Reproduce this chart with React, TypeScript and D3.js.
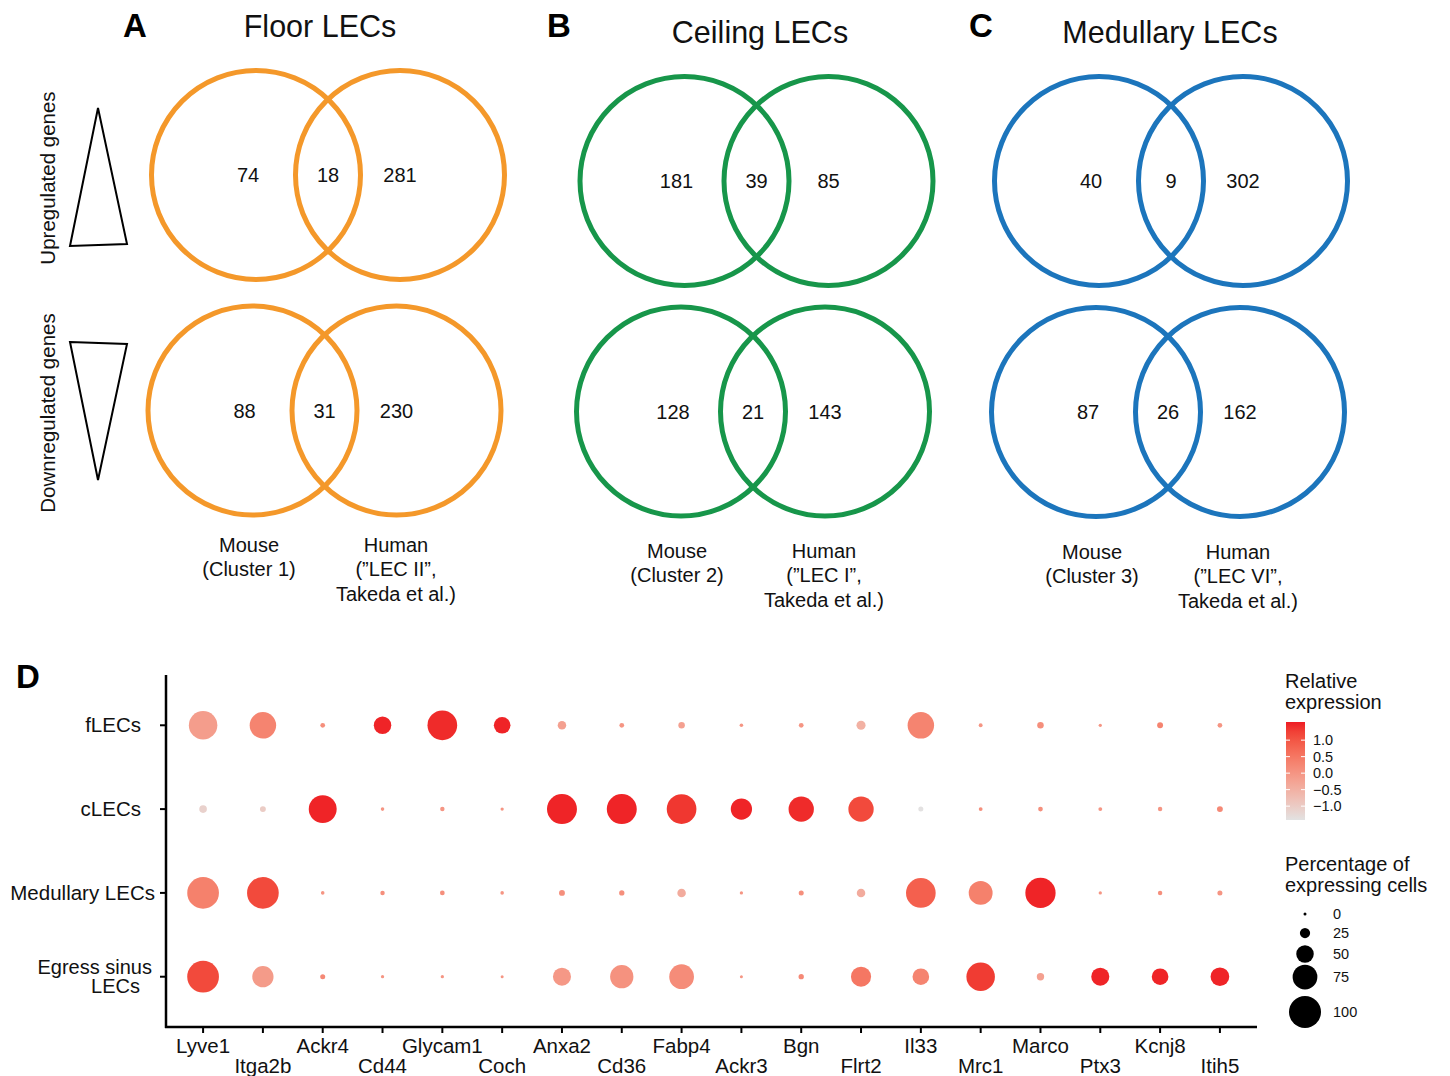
import React from "react";
import * as d3 from "d3";

// ---------- Venn data ----------
const panelTitles = ["Floor LECs", "Ceiling LECs", "Medullary LECs"];
const panelLetters = ["A", "B", "C"];
const upLeft = [74, 181, 40];
const upShared = [18, 39, 9];
const upRight = [281, 85, 302];
const downLeft = [88, 128, 87];
const downShared = [31, 21, 26];
const downRight = [230, 143, 162];
const mouseLabels = ["(Cluster 1)", "(Cluster 2)", "(Cluster 3)"];
const humanLabels = ["(\u201DLEC II\u201D,", "(\u201DLEC I\u201D,", "(\u201DLEC VI\u201D,"];
const vennColors = ["#F4982A", "#17964A", "#1C75BC"];

// ---------- Dot plot data ----------
const genes = [
  "Lyve1", "Itga2b", "Ackr4", "Cd44", "Glycam1", "Coch", "Anxa2", "Cd36", "Fabp4",
  "Ackr3", "Bgn", "Flrt2", "Il33", "Mrc1", "Marco", "Ptx3", "Kcnj8", "Itih5",
];
const groups = ["fLECs", "cLECs", "Medullary LECs", "Egress sinus LECs"];

const pctFLEC = [88, 81, 6, 50, 92, 47, 19, 6, 12, 2, 6, 21, 81, 3, 12, 1, 10, 6];
const pctCLEC = [16, 10, 86, 2, 5, 1, 93, 93, 92, 63, 77, 77, 7, 3, 6, 3, 5, 10];
const pctMED = [99, 99, 2, 5, 6, 2, 10, 8, 19, 1, 7, 19, 92, 72, 94, 1, 5, 7];
const pctEGR = [99, 63, 7, 1, 1, 0, 52, 70, 75, 0, 8, 59, 47, 88, 15, 52, 47, 54];

const exprFLEC = [-0.15, 0.3, 0.1, 1.5, 1.45, 1.5, -0.2, 0.0, -0.2, 0.0, 0.0, -0.5, 0.3, 0.0, 0.1, 0.0, 0.3, 0.0];
const exprCLEC = [-1.1, -1.0, 1.5, 0.0, 0.0, 0.0, 1.5, 1.5, 1.35, 1.5, 1.45, 1.15, -1.4, 0.1, 0.1, 0.0, 0.0, 0.2];
const exprMED = [0.35, 1.15, 0.0, 0.1, 0.1, 0.0, 0.1, 0.1, -0.4, 0.0, 0.1, -0.4, 0.85, 0.35, 1.5, 0.0, 0.1, 0.0];
const exprEGR = [1.15, -0.1, 0.2, 0.0, 0.0, 0.0, -0.05, 0.05, 0.15, 0.0, 0.2, 0.5, 0.3, 1.3, -0.2, 1.5, 1.5, 1.5];

const colorTicks = [1.0, 0.5, 0.0, -0.5, -1.0];
const sizeTicks = [0, 25, 50, 75, 100];

const pctRows = [pctFLEC, pctCLEC, pctMED, pctEGR];
const exprRows = [exprFLEC, exprCLEC, exprMED, exprEGR];

const FONT = "'Liberation Sans', Arial, Helvetica, sans-serif";

// layout for the venn panels
const vennLayout = [
  { up: [328, 175], down: [324.5, 410.5], letterX: 135, titleX: 320, titleY: 37, mouseX: 249, humanX: 396, labY: 552 },
  { up: [756.5, 181], down: [753, 411.5], letterX: 559, titleX: 760, titleY: 43, mouseX: 677, humanX: 824, labY: 558 },
  { up: [1171, 181], down: [1168, 412], letterX: 981, titleX: 1170, titleY: 43, mouseX: 1092, humanX: 1238, labY: 559 },
];

function Venn({ cx, cy, color, left, shared, right }) {
  const half = 72;
  const r = 104.5;
  return (
    <g>
      <circle cx={cx - half} cy={cy} r={r} fill="none" stroke={color} strokeWidth={5} />
      <circle cx={cx + half} cy={cy} r={r} fill="none" stroke={color} strokeWidth={5} />
      <g fontFamily={FONT} fontSize={20} textAnchor="middle" fill="#111">
        <text x={cx - half - 8} y={cy + 7}>{left}</text>
        <text x={cx} y={cy + 7}>{shared}</text>
        <text x={cx + half} y={cy + 7}>{right}</text>
      </g>
    </g>
  );
}

export default function App() {
  // Dot plot scales
  const x = d3.scalePoint<string>().domain(genes).range([166, 1257]).padding(0.62);
  const y = d3.scalePoint<string>().domain(groups).range([675, 1027]).padding(0.6);
  const rScale = d3.scaleLinear().domain([0, 100]).range([1.5, 16]);
  const colorDomain: [number, number] = [-1.42, 1.55];
  const color = d3
    .scaleLinear<string>()
    .domain(colorDomain)
    .range(["#E2E2E2", "#EE1C24"])
    .interpolate(d3.interpolateLab)
    .clamp(true);
  const barY = d3.scaleLinear().domain(colorDomain).range([820, 722]);
  const stops = d3.range(0, 1.0001, 0.1);

  const dots = [];
  groups.forEach((g, gi) => {
    genes.forEach((ge, j) => {
      dots.push(
        <circle
          key={g + ge}
          cx={x(ge)}
          cy={y(g)}
          r={rScale(pctRows[gi][j])}
          fill={color(exprRows[gi][j])}
        />
      );
    });
  });

  const yLabelEnds = [141, 141, 155, 152];

  return (
    <svg
      width={1450}
      height={1076}
      style={{ position: "absolute", left: 0, top: 0, background: "#fff" }}
      fontFamily={FONT}
    >
      <defs>
        <linearGradient id="cbar" x1="0" y1="1" x2="0" y2="0">
          {stops.map((t) => (
            <stop
              key={t}
              offset={t}
              stopColor={color(colorDomain[0] + t * (colorDomain[1] - colorDomain[0]))}
            />
          ))}
        </linearGradient>
      </defs>
      <rect x={0} y={0} width={1450} height={1076} fill="#fff" />

      {/* Venn panels */}
      {vennLayout.map((L, i) => (
        <g key={i}>
          <text x={L.letterX} y={37} fontSize={33} fontWeight="bold" textAnchor="middle" fill="#000">
            {panelLetters[i]}
          </text>
          <text x={L.titleX} y={L.titleY} fontSize={30.5} textAnchor="middle" fill="#111">
            {panelTitles[i]}
          </text>
          <Venn cx={L.up[0]} cy={L.up[1]} color={vennColors[i]} left={upLeft[i]} shared={upShared[i]} right={upRight[i]} />
          <Venn cx={L.down[0]} cy={L.down[1]} color={vennColors[i]} left={downLeft[i]} shared={downShared[i]} right={downRight[i]} />
          <g fontSize={20} textAnchor="middle" fill="#111">
            <text x={L.mouseX} y={L.labY}>Mouse</text>
            <text x={L.mouseX} y={L.labY + 24}>{mouseLabels[i]}</text>
            <text x={L.humanX} y={L.labY}>Human</text>
            <text x={L.humanX} y={L.labY + 24}>{humanLabels[i]}</text>
            <text x={L.humanX} y={L.labY + 49}>Takeda et al.)</text>
          </g>
        </g>
      ))}

      {/* Row labels and triangles */}
      <text transform="translate(55,178) rotate(-90)" fontSize={20.5} textAnchor="middle" fill="#111">
        Upregulated genes
      </text>
      <text transform="translate(55,413) rotate(-90)" fontSize={20.5} textAnchor="middle" fill="#111">
        Downregulated genes
      </text>
      <polygon points="98,108 70,246 127,244" fill="none" stroke="#000" strokeWidth={2} strokeLinejoin="miter" />
      <polygon points="70,342 127,344 98,480" fill="none" stroke="#000" strokeWidth={2} strokeLinejoin="miter" />

      {/* Panel D */}
      <text x={28} y={688} fontSize={33} fontWeight="bold" textAnchor="middle" fill="#000">D</text>
      {dots}
      {/* axes */}
      <line x1={166} y1={675} x2={166} y2={1028} stroke="#000" strokeWidth={2.5} />
      <line x1={165} y1={1027} x2={1257} y2={1027} stroke="#000" strokeWidth={2.5} />
      {genes.map((g, j) => (
        <g key={g}>
          <line x1={x(g)} x2={x(g)} y1={1027} y2={1033} stroke="#000" strokeWidth={2} />
          <text x={x(g)} y={j % 2 === 0 ? 1053 : 1073} fontSize={20.5} textAnchor="middle" fill="#111">
            {g}
          </text>
        </g>
      ))}
      {groups.map((g, i) => (
        <g key={g}>
          <line x1={160} x2={166} y1={y(g)} y2={y(g)} stroke="#000" strokeWidth={2} />
          {g === "Egress sinus LECs" ? (
            <text fontSize={20} textAnchor="end" fill="#111">
              <tspan x={yLabelEnds[i]} y={y(g) - 3}>Egress sinus</tspan>
              <tspan x={140} y={y(g) + 16}>LECs</tspan>
            </text>
          ) : (
            <text x={yLabelEnds[i]} y={y(g) + 7} fontSize={20.5} textAnchor="end" fill="#111">
              {g}
            </text>
          )}
        </g>
      ))}

      {/* Color legend */}
      <text x={1285} y={688} fontSize={20} fill="#111">Relative</text>
      <text x={1285} y={709} fontSize={20} fill="#111">expression</text>
      <rect x={1286} y={722} width={19} height={98} fill="url(#cbar)" />
      {colorTicks.map((t) => (
        <g key={t}>
          <line x1={1286} x2={1290} y1={barY(t)} y2={barY(t)} stroke="#fff" strokeWidth={1} />
          <line x1={1301} x2={1305} y1={barY(t)} y2={barY(t)} stroke="#fff" strokeWidth={1} />
          <text x={1313} y={barY(t) + 5} fontSize={14.5} fill="#111">
            {t === 0 ? "0.0" : t > 0 ? t.toFixed(1) : "\u2212" + Math.abs(t).toFixed(1)}
          </text>
        </g>
      ))}

      {/* Size legend */}
      <text x={1285} y={871} fontSize={20} fill="#111">Percentage of</text>
      <text x={1285} y={892} fontSize={20} fill="#111">expressing cells</text>
      {sizeTicks.map((s, i) => {
        const cy = [914, 933, 954, 977, 1012][i];
        return (
          <g key={s}>
            <circle cx={1305} cy={cy} r={rScale(s)} fill="#000" />
            <text x={1333} y={cy + 5} fontSize={14.5} fill="#111">{s}</text>
          </g>
        );
      })}
    </svg>
  );
}
